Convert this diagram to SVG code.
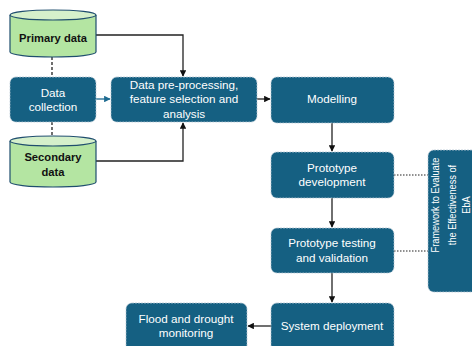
<svg xmlns="http://www.w3.org/2000/svg" width="472" height="346" viewBox="0 0 472 346">
<style>
.box{fill:#156082;stroke:#b8c8d4;stroke-width:0.8;stroke-dasharray:2 1}
.t{font-family:"Liberation Sans",Arial,sans-serif;font-size:11.7px;fill:#fff;text-anchor:middle}
.ft{font-family:"Liberation Sans",Arial,sans-serif;font-size:11px;fill:#fff;text-anchor:middle}
.cb{fill:#b4e5a2;stroke:#1f4e6e;stroke-width:1.2}
.ct{fill:#d5f0cb;stroke:#1f4e6e;stroke-width:1.2}
.bt{font-family:"Liberation Sans",Arial,sans-serif;font-size:11.2px;font-weight:bold;fill:#111;text-anchor:middle}
.ln{fill:none;stroke:#222;stroke-width:1.3}
.dash{fill:none;stroke:#222;stroke-width:1.3;stroke-dasharray:3 2}
.dot{fill:none;stroke:#222;stroke-width:1.2;stroke-dasharray:1.5 1.5}
</style>
<defs>
<marker id="ah" viewBox="0 0 10 10" refX="9" refY="5" markerWidth="5" markerHeight="5" orient="auto"><path d="M0,0 L10,5 L0,10 z" fill="#111"/></marker>
<marker id="ahb" viewBox="0 0 10 10" refX="9" refY="5" markerWidth="5" markerHeight="5" orient="auto"><path d="M0,0 L10,5 L0,10 z" fill="#1d6a90"/></marker>
</defs>
<g id="connectors">
<path class="dash" d="M52,57 V77"/>
<path class="dash" d="M52,122 V136"/>
<path d="M96,99 H110" fill="none" stroke="#1d6a90" stroke-width="1.3" marker-end="url(#ahb)"/>
<path class="ln" d="M96,35 H183 V76" marker-end="url(#ah)"/>
<path class="ln" d="M96,161 H183 V123" marker-end="url(#ah)"/>
<path class="ln" d="M257,99 H270" marker-end="url(#ah)"/>
<path class="ln" d="M332,123 V151" marker-end="url(#ah)"/>
<path class="ln" d="M332,198 V227" marker-end="url(#ah)"/>
<path class="ln" d="M332,273 V302" marker-end="url(#ah)"/>
<path class="ln" d="M271,326 H248" marker-end="url(#ah)"/>
<path class="dot" d="M394,175 H428"/>
<path class="dot" d="M394,251 H428"/>
</g>
<g id="primary">
<path class="cb" d="M10,15 V52 A43,5 0 0 0 96,52 V15"/>
<ellipse class="ct" cx="53" cy="15" rx="43" ry="5"/>
<text class="bt" x="53" y="42">Primary data</text>
</g>
<g id="collection">
<rect class="box" x="10" y="77" width="86" height="45" rx="6"/>
<text class="t" x="53" y="97">Data</text>
<text class="t" x="53" y="111">collection</text>
</g>
<g id="secondary">
<path class="cb" d="M10,141 V182 A43,5 0 0 0 96,182 V141"/>
<ellipse class="ct" cx="53" cy="141" rx="43" ry="5"/>
<text class="bt" x="53" y="161">Secondary</text>
<text class="bt" x="53" y="176">data</text>
</g>
<g id="preprocessing">
<rect class="box" x="111" y="77" width="146" height="45" rx="6"/>
<text class="t" x="184" y="89">Data pre-processing,</text>
<text class="t" x="184" y="103">feature selection and</text>
<text class="t" x="184" y="118">analysis</text>
</g>
<g id="modelling">
<rect class="box" x="271" y="77" width="123" height="46" rx="6"/>
<text class="t" x="332" y="103">Modelling</text>
</g>
<g id="protodev">
<rect class="box" x="271" y="152" width="123" height="46" rx="6"/>
<text class="t" x="332" y="172">Prototype</text>
<text class="t" x="332" y="186">development</text>
</g>
<g id="prototest">
<rect class="box" x="271" y="228" width="123" height="45" rx="6"/>
<text class="t" x="332" y="247">Prototype testing</text>
<text class="t" x="332" y="262">and validation</text>
</g>
<g id="deploy">
<rect class="box" x="271" y="303" width="123" height="50" rx="6"/>
<text class="t" x="332" y="330">System deployment</text>
</g>
<g id="flood">
<rect class="box" x="126" y="303" width="121" height="50" rx="6"/>
<text class="t" x="186" y="323">Flood and drought</text>
<text class="t" x="186" y="337">monitoring</text>
</g>
<g id="framework">
<rect class="box" x="428" y="150" width="60" height="142" rx="6"/>
<g transform="translate(451,205) rotate(-90) scale(0.84,1)">
<text class="ft" x="0" y="-12">Framework to Evaluate</text>
<text class="ft" x="0" y="5">the Effectiveness of</text>
<text class="ft" x="0" y="19">EbA</text>
</g>
</g>
</svg>
